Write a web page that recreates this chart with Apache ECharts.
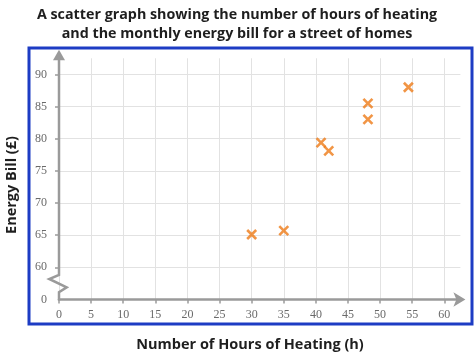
<!DOCTYPE html>
<html><head><meta charset="utf-8">
<script src="https://cdn.jsdelivr.net/npm/echarts@6/dist/echarts.min.js"></script>
<style>html,body{margin:0;padding:0;background:#fff}#c{width:474px;height:354px}</style>
</head><body><div id="c"></div>
<script>
// Data
const hours = [30, 35, 40.8, 42, 48.1, 48.1, 54.4];
const bills = [65.1, 65.7, 79.4, 78.1, 85.5, 83.0, 88.0];
const xTickValues = [0, 5, 10, 15, 20, 25, 30, 35, 40, 45, 50, 55, 60];
const xTickLabels = ['0', '5', '10', '15', '20', '25', '30', '35', '40', '45', '50', '55', '60'];
const yTickValues = [55, 60, 65, 70, 75, 80, 85, 90];
const yTickLabels = ['0', '60', '65', '70', '75', '80', '85', '90'];
const titleLines = ['A scatter graph showing the number of hours of heating', 'and the monthly energy bill for a street of homes'];
const xName = 'Number of Hours of Heating (h)';
const yName = 'Energy Bill (£)';

const AXIS = '#9a9a9a';
const GRIDC = '#e2e2e2';
const LABEL = '#6a6a6a';
const chart = echarts.init(document.getElementById('c'), null, {renderer: 'canvas'});

const labelFont = {fontFamily: 'Liberation Serif', fontSize: 12, color: LABEL};
const nameFont = {fontFamily: 'Open Sans', fontWeight: 'bold', fontSize: 14.5, fill: '#1e1e1e'};

chart.setOption({
  animation: false,
  backgroundColor: '#fff',
  title: {
    text: titleLines.join('\n'), left: 'center', top: 0,
    textStyle: {fontFamily: 'Open Sans', fontWeight: 'bold', fontSize: 14.3, lineHeight: 19.5, color: '#1e1e1e'}
  },
  grid: {left: 59, right: 13.6, top: 58.3, bottom: 54.5, containLabel: false},
  xAxis: {
    type: 'value', min: 0, max: 62.5, interval: 2.5,
    axisLine: {show: true, lineStyle: {color: AXIS, width: 2.5}, symbol: ['none', 'arrow'], symbolSize: [11, 12], symbolOffset: [0, 5]},
    axisTick: {show: true, customValues: xTickValues, length: 4, lineStyle: {color: AXIS, width: 1.5}},
    axisLabel: {customValues: xTickValues, margin: 9, ...labelFont,
      formatter: v => xTickLabels[xTickValues.indexOf(v)] ?? ''},
    splitLine: {show: true, lineStyle: {color: GRIDC, width: 1}}
  },
  yAxis: {
    type: 'value', min: 55, max: 92.5, interval: 2.5,
    axisLine: {show: false},
    axisTick: {show: true, customValues: yTickValues.slice(1), length: 4, lineStyle: {color: AXIS, width: 1.5}},
    axisLabel: {customValues: yTickValues, margin: 12, ...labelFont,
      formatter: v => yTickLabels[yTickValues.indexOf(v)] ?? ''},
    splitLine: {show: true, lineStyle: {color: GRIDC, width: 1}}
  },
  series: [{
    type: 'scatter',
    data: hours.map((h, i) => [h, bills[i]]),
    symbol: 'path://M0,0L10,10M10,0L0,10',
    symbolSize: 9,
    itemStyle: {color: 'none', borderColor: '#ee7b16', borderWidth: 2.6},
    z: 5
  }]
});

// Decorations: y-axis line with break zigzag + arrow, blue frame, axis names
const o = chart.convertToPixel({gridIndex: 0}, [0, 55]);
const t = chart.convertToPixel({gridIndex: 0}, [0, 92.5]);
const ax = o[0], ay = o[1];
chart.setOption({
  graphic: [
    {type: 'rect', shape: {x: 29, y: 48, width: 443, height: 276}, style: {fill: 'none', stroke: '#1d3cc4', lineWidth: 3}, z: 10},
    {type: 'polyline', shape: {points: [
      [ax, t[1]], [ax, ay - 24.5], [ax - 9.7, ay - 20.5], [ax + 7.7, ay - 12.2], [ax, ay - 7.2], [ax, ay + 1]
    ]}, style: {stroke: AXIS, lineWidth: 2.5, fill: 'none'}, z: 10},
    {type: 'polygon', shape: {points: [[ax, t[1] - 8.5], [ax - 6, t[1] + 2], [ax + 6, t[1] + 2]]}, style: {fill: AXIS}, z: 10},
    {type: 'text', x: 250, y: 345, style: {text: xName, ...nameFont, align: 'center', verticalAlign: 'middle'}, z: 10},
    {type: 'text', x: 12, y: 185, rotation: Math.PI / 2, style: {text: yName, ...nameFont, align: 'center', verticalAlign: 'middle'}, z: 10}
  ]
});
</script></body></html>
